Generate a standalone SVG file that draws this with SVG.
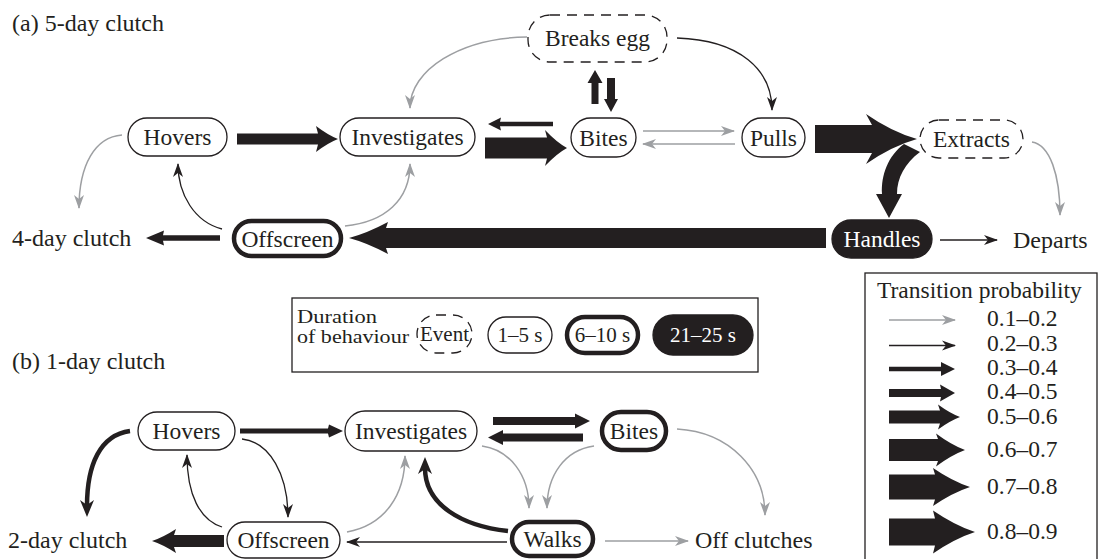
<svg xmlns="http://www.w3.org/2000/svg" width="1100" height="559" viewBox="0 0 1100 559">
<style>
text{font-family:"Liberation Serif","Times New Roman",serif;fill:#231f20}
.t{font-size:23.5px;text-anchor:middle}
.lt{font-size:24px}
.n{fill:#fff;stroke:#231f20;stroke-width:1.3}
.nt{fill:#fff;stroke:#231f20;stroke-width:4.5}
.ne{fill:#fff;stroke:#231f20;stroke-width:1.3;stroke-dasharray:10 7}
.nf{fill:#231f20;stroke:#231f20;stroke-width:1.3}
.w{fill:#fff}
.g{fill:none;stroke:#9d9fa2;stroke-width:1.5;marker-end:url(#mg)}
.k{fill:none;stroke:#231f20;stroke-width:1.3;marker-end:url(#mk)}
.k3{fill:none;stroke:#231f20;stroke-width:4.5;marker-end:url(#mk3)}
.f{fill:#231f20}
.box{fill:none;stroke:#231f20;stroke-width:1.3}
.dl{font-size:18px}
.dn{font-size:21px;text-anchor:middle}
.pl{font-size:23.5px}
</style>
<defs>
<marker id="mg" markerUnits="userSpaceOnUse" markerWidth="16" markerHeight="12" refX="13" refY="5" orient="auto" overflow="visible"><path d="M0,0 L14,5 L0,10 L4,5 Z" fill="#9d9fa2"/></marker>
<marker id="mk" markerUnits="userSpaceOnUse" markerWidth="16" markerHeight="12" refX="13" refY="5" orient="auto" overflow="visible"><path d="M0,0 L14,5 L0,10 L4,5 Z" fill="#231f20"/></marker>
<marker id="mk3" markerUnits="userSpaceOnUse" markerWidth="18" markerHeight="14" refX="6" refY="7" orient="auto" overflow="visible"><path d="M0,0 L17,7 L0,14 L5,7 Z" fill="#231f20"/></marker>
</defs>

<text x="12" y="31" class="lt">(a) 5-day clutch</text>
<text x="12" y="369" class="lt">(b) 1-day clutch</text>

<g id="connectors">
  <!-- (a) -->
  <path class="g" d="M527,37 C460,38 410,70 410,108"/>
  <path class="g" d="M643,131 L734,131"/>
  <path class="g" d="M735,144 L643,144"/>
  <path class="g" d="M122,135 C95,137 79,165 79,208"/>
  <path class="g" d="M345,226 C385,222 410,200 410,164"/>
  <path class="g" d="M1032,142 C1050,145 1060,175 1060,215"/>
  <path class="k" d="M677,38 C740,40 772,70 772,110"/>
  <path class="k" d="M222,229 C195,222 178,195 178,164"/>
  <path class="k" d="M940,240 L997,240"/>
  <path class="f" d="M237,133.5 L318,133.5 L316,126 Q328,135.1 338,139 Q328,142.9 316,152 L318,144.5 L237,144.5 Z"/>
  <path class="f" d="M485,137.5 L547,137.5 L545,130 Q557,142.6 567,148 Q557,153.4 545,166 L547,158.5 L485,158.5 Z"/>
  <path class="f" d="M553,121.75 L500,121.75 L501,117.5 L488,124 L501,130.5 L500,126.25 L553,126.25 Z"/>
  <path class="f" d="M591.5,104 L591.5,83 L587.5,83 L595,70 L602.5,83 L598.5,83 L598.5,104 Z"/>
  <path class="f" d="M607,78 L607,99 L604,99 L611,112 L618,99 L615,99 L615,78 Z"/>
  <path class="f" d="M815,125 L872,125 L866,114 Q892,132 917,139 Q892,146 866,164 L872,153 L815,153 Z"/>
  <path class="f" d="M826,228 L386,228 L388,222 Q367,233.2 349,238 Q367,242.8 388,254 L386,248 L826,248 Z"/>
  <path class="f" d="M220,235.25 L163,235.25 L164,230.5 L146,238 L164,245.5 L163,240.75 L220,240.75 Z"/>
  <path class="f" d="M904,144 C888,156 881,175 882,194 L876,194 L889,218 L902,194 L897,194 C897,178 905,163 920,152 Z"/>
  <!-- (b) -->
  <path class="g" d="M347,532 C385,525 405,495 405,456"/>
  <path class="g" d="M482,446 C510,450 529,475 529,508"/>
  <path class="g" d="M594,446 C565,450 547,475 547,508"/>
  <path class="g" d="M677,429 C730,432 765,470 765,515"/>
  <path class="g" d="M605,541 L688,541"/>
  <path class="k" d="M242,439 C270,442 288,475 288,517"/>
  <path class="k" d="M222,527 C200,520 187,495 187,455"/>
  <path class="k" d="M507,542 L347,542"/>
  <path class="k3" d="M130,431 C100,435 87,465 87,506"/>
  <path class="k3" d="M508,531 C462,526 425,505 425,468"/>
  <path class="f" d="M240,428.5 L328,428.5 L329,424.5 L343,431 L329,437.5 L328,433.5 L240,433.5 Z"/>
  <path class="f" d="M493,417 L575,417 L575,413.5 L590,421 L575,428.5 L575,425 L493,425 Z"/>
  <path class="f" d="M583,433.5 L503,433.5 L503,430 L488,437.5 L503,445 L503,441.5 L583,441.5 Z"/>
  <path class="f" d="M224,535 L174,535 L176,529 Q163,537.4 152,541 Q163,544.6 176,553 L174,547 L224,547 Z"/>
</g>

<!-- (a) nodes -->
<g id="a-hovers"><rect class="n" x="128" y="118" width="99" height="38" rx="19"/><text class="t" x="177.5" y="145">Hovers</text></g>
<g id="a-investigates"><rect class="n" x="340" y="118" width="135" height="38" rx="19"/><text class="t" x="407.5" y="145">Investigates</text></g>
<g id="a-bites"><rect class="n" x="571" y="118" width="65" height="39" rx="19.5"/><text class="t" x="603.5" y="145.5">Bites</text></g>
<g id="a-pulls"><rect class="n" x="742" y="118" width="63" height="39" rx="19.5"/><text class="t" x="773.5" y="145.5">Pulls</text></g>
<g id="a-breaks"><rect class="ne" x="528" y="15" width="139" height="47" rx="22"/><text class="t" x="597.5" y="46">Breaks egg</text></g>
<g id="a-extracts"><rect class="ne" x="920" y="120" width="103" height="38" rx="19"/><text class="t" x="971.5" y="147">Extracts</text></g>
<g id="a-handles"><rect class="nf" x="832" y="220" width="100" height="38" rx="19"/><text class="t w" x="882" y="247">Handles</text></g>
<g id="a-offscreen"><rect class="nt" x="234" y="221" width="107" height="35" rx="17.5"/><text class="t" x="287.5" y="246.5">Offscreen</text></g>
<g id="a-4day"><text class="lt" x="12" y="246">4-day clutch</text></g>
<g id="a-departs"><text class="lt" x="1013" y="248">Departs</text></g>

<!-- (b) nodes -->
<g id="b-hovers"><rect class="n" x="138" y="412" width="97" height="38" rx="19"/><text class="t" x="186.5" y="439">Hovers</text></g>
<g id="b-investigates"><rect class="n" x="345" y="411" width="132" height="40" rx="20"/><text class="t" x="411" y="439">Investigates</text></g>
<g id="b-bites"><rect class="nt" x="602" y="412" width="64" height="38" rx="19"/><text class="t" x="634" y="439">Bites</text></g>
<g id="b-offscreen"><rect class="n" x="227" y="522" width="113" height="36" rx="18"/><text class="t" x="283.5" y="548">Offscreen</text></g>
<g id="b-walks"><rect class="nt" x="512" y="522" width="81" height="34" rx="17"/><text class="t" x="552.5" y="547">Walks</text></g>
<g id="b-2day"><text class="lt" x="8" y="548">2-day clutch</text></g>
<g id="b-off"><text class="lt" x="695" y="548">Off clutches</text></g>

<!-- duration legend -->
<g id="legend-duration">
  <rect class="box" x="292" y="298" width="466" height="74"/>
  <text x="297" y="323" class="dl" textLength="80" lengthAdjust="spacingAndGlyphs">Duration</text>
  <text x="297" y="343" class="dl" textLength="112" lengthAdjust="spacingAndGlyphs">of behaviour</text>
  <rect class="ne" x="417" y="315" width="55" height="38" rx="19"/>
  <text x="444.5" y="341" class="dn">Event</text>
  <rect class="n" x="488" y="317" width="64" height="36" rx="18"/>
  <text x="520" y="342" class="dn">1–5 s</text>
  <rect class="nt" x="567" y="317" width="71" height="36" rx="18"/>
  <text x="602.5" y="342" class="dn">6–10 s</text>
  <rect class="nf" x="653" y="315" width="100" height="40" rx="20"/>
  <text x="703" y="342" class="dn w">21–25 s</text>
</g>

<!-- probability legend -->
<g id="legend-probability">
  <rect class="box" x="865" y="273" width="232" height="290"/>
  <text x="877" y="298" class="pl">Transition probability</text>
  <path class="g" d="M889,320 L955,320"/>
  <path class="k" d="M889,345.5 L955,345.5"/>
  <path class="f" d="M889,366.75 L941,366.75 L941,362 L955,369 L941,376 L941,371.25 L889,371.25 Z"/>
  <path class="f" d="M889,389 L941,389 L940,384.5 L955,393 L940,401.5 L941,397 L889,397 Z"/>
  <path class="f" d="M889,410.5 L940,410.5 L938,404.5 Q950,413.25 960,417 Q950,420.75 938,429.5 L940,423.5 L889,423.5 Z"/>
  <path class="f" d="M889,439 L938,439 L936,433.5 Q951.5,445 965,450 Q951.5,455 936,466.5 L938,461 L889,461 Z"/>
  <path class="f" d="M889,474.5 L935,474.5 L933,468 Q952.5,481.3 970,487 Q952.5,492.7 933,506 L935,499.5 L889,499.5 Z"/>
  <path class="f" d="M889,518.5 L935,518.5 L933,510.5 Q955,525.55 975,532 Q955,538.45 933,553.5 L935,545.5 L889,545.5 Z"/>
  <text x="987" y="326" class="pl">0.1–0.2</text>
  <text x="987" y="351" class="pl">0.2–0.3</text>
  <text x="987" y="375" class="pl">0.3–0.4</text>
  <text x="987" y="399" class="pl">0.4–0.5</text>
  <text x="987" y="424" class="pl">0.5–0.6</text>
  <text x="987" y="457" class="pl">0.6–0.7</text>
  <text x="987" y="494" class="pl">0.7–0.8</text>
  <text x="987" y="539" class="pl">0.8–0.9</text>
</g>
</svg>
